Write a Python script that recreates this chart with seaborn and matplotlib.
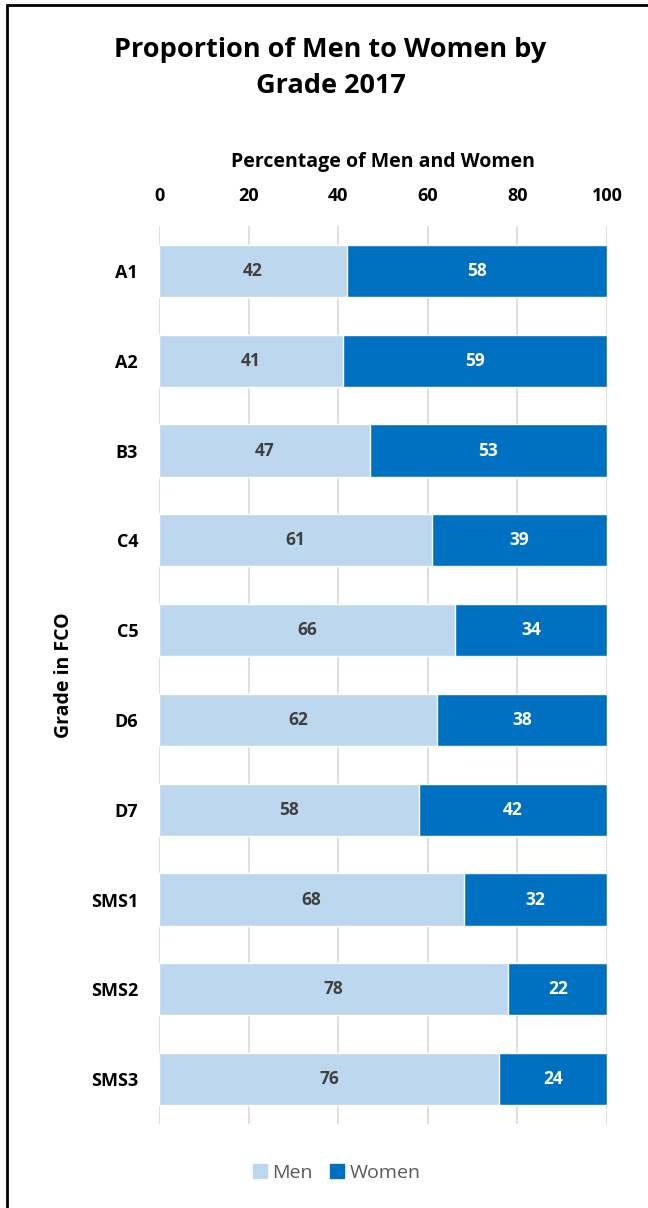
import matplotlib

matplotlib.use("Agg")

import matplotlib.pyplot as plt
import pandas as pd
import seaborn as sns
from matplotlib.lines import Line2D
from matplotlib.patches import Patch

grades = ["A1", "A2", "B3", "C4", "C5", "D6", "D7", "SMS1", "SMS2", "SMS3"]
men = [42, 41, 47, 61, 66, 62, 58, 68, 78, 76]
women = [58, 59, 53, 39, 34, 38, 42, 32, 22, 24]

MEN_COLOR = "#BDD7EE"
WOMEN_COLOR = "#0070C0"
FONT = ["Open Sans", "DejaVu Sans"]

df = pd.DataFrame({"grade": grades, "men": men, "women": women})
df["total"] = df["men"] + df["women"]

sns.set_style("white")
plt.rcParams["font.family"] = FONT
plt.rcParams["text.color"] = "black"
plt.rcParams["axes.labelcolor"] = "black"

fig = plt.figure(figsize=(6.48, 12.08), dpi=100)
ax = fig.add_axes([0.2454, 0.0695, 0.6913, 0.7434])

# stacked bars: full width in dark blue, men drawn over it
sns.barplot(data=df, x="total", y="grade", orient="h", color=WOMEN_COLOR,
            width=0.58, saturation=1, ax=ax, zorder=2)
sns.barplot(data=df, x="men", y="grade", orient="h", color=MEN_COLOR,
            width=0.58, saturation=1, ax=ax, zorder=3)

for i, row in df.iterrows():
    ax.text(row["men"] / 2, i, f"{row['men']}", ha="center", va="center",
            fontsize=12.5, fontweight="bold", color="#404040", zorder=4)
    ax.text(row["men"] + row["women"] / 2, i, f"{row['women']}", ha="center",
            va="center", fontsize=12.5, fontweight="bold", color="white", zorder=4)

ax.set_xlim(0, 100)
ax.set_ylim(len(grades) - 0.5, -0.5)
ax.set_xticks(range(0, 101, 20))
ax.xaxis.tick_top()
ax.xaxis.set_label_position("top")
ax.grid(axis="x", color="#D9D9D9", linewidth=1.2, zorder=0)
ax.set_axisbelow(True)
for spine in ax.spines.values():
    spine.set_visible(False)
ax.tick_params(axis="both", length=0, labelsize=13)
ax.tick_params(axis="x", pad=15)
ax.tick_params(axis="y", pad=15)
for label in ax.get_xticklabels() + ax.get_yticklabels():
    label.set_fontweight("bold")
    label.set_color("black")

ax.set_xlabel("Percentage of Men and Women", fontsize=14, fontweight="bold",
              labelpad=14.5)
ax.set_ylabel("Grade in FCO", fontsize=14, fontweight="bold", labelpad=12)

fig.text(0.51, 0.944, "Proportion of Men to Women by\nGrade 2017", ha="center",
         va="center", fontsize=19.5, fontweight="bold", linespacing=1.5)

handles = [Patch(color=MEN_COLOR, label="Men"), Patch(color=WOMEN_COLOR, label="Women")]
leg = fig.legend(handles=handles, loc="center", bbox_to_anchor=(0.52, 0.029),
                 ncol=2, frameon=False, handlelength=0.7,
                 handleheight=0.7, handletextpad=0.3, columnspacing=0.9,
                 prop={"family": ["Open Sans", "DejaVu Sans"], "size": 14})
for text in leg.get_texts():
    text.set_color("#595959")

# chart frame (only top and left edges visible)
fig.add_artist(Line2D([0.0105, 1.0], [0.9955, 0.9955], color="black", linewidth=2,
                      transform=fig.transFigure))
fig.add_artist(Line2D([0.0105, 0.0105], [0.0, 0.9955], color="black", linewidth=2,
                      transform=fig.transFigure))

fig.savefig("out.png", dpi=100)
plt.close(fig)
